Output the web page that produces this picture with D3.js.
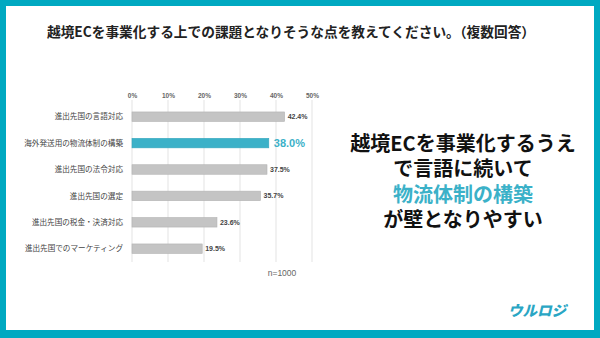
<!DOCTYPE html>
<html>
<head>
<meta charset="utf-8">
<script src="https://cdn.jsdelivr.net/npm/d3@7"></script>
<style>
  html, body { margin: 0; padding: 0; background: #fff; }
  svg { display: block; font-family: "Noto Sans CJK JP", "Noto Sans", sans-serif; }
</style>
</head>
<body>
<svg id="chart" width="600" height="338"></svg>
<script>
// Survey answers (multiple choice), n=1000
const categories = [
  "進出先国の言語対応",
  "海外発送用の物流体制の構築",
  "進出先国の法令対応",
  "進出先国の選定",
  "進出先国の税金・決済対応",
  "進出先国でのマーケティング"
];
const values = [42.4, 38.0, 37.5, 35.7, 23.6, 19.5];
const highlightIndex = 1;
const tickValues = [0, 10, 20, 30, 40, 50];

const title = "越境ECを事業化する上での課題となりそうな点を教えてください。（複数回答）";
const messageLines = ["越境ECを事業化するうえ", "で言語に続いて", "物流体制の構築", "が壁となりやすい"];
const messageHighlightLine = 2;
const sampleNote = "n=1000";
const brand = "ウルロジ";

const teal = "#00a9c1";
const accent = "#3bb1c8";
const svg = d3.select("#chart");

// frame
svg.append("rect").attr("x", 0).attr("y", 0).attr("width", 600).attr("height", 338).attr("fill", teal);
svg.append("rect").attr("x", 6).attr("y", 6).attr("width", 588).attr("height", 324).attr("fill", "#fff");

// title
svg.append("text")
  .attr("x", 291).attr("y", 37)
  .attr("text-anchor", "middle")
  .attr("font-size", 13.7).attr("font-weight", 700).attr("fill", "#222")
  .text(title);

// scales
const x = d3.scaleLinear().domain([0, 50]).range([132, 312]);
const y = d3.scaleBand().domain(categories).range([103.5, 261.9]).paddingInner(0.64).paddingOuter(0.32);

// grid
const g = svg.append("g");
g.selectAll("line.grid").data(tickValues).join("line")
  .attr("class", "grid")
  .attr("x1", d => x(d)).attr("x2", d => x(d))
  .attr("y1", 100).attr("y2", 262)
  .attr("stroke", "#dcdcdc").attr("stroke-width", 0.8);

// top axis labels
const axis = d3.axisTop(x).tickValues(tickValues).tickFormat(d => d + "%").tickSize(0).tickPadding(0);
const axisG = svg.append("g").attr("transform", "translate(0,98)").call(axis);
axisG.select(".domain").remove();
axisG.selectAll("text")
  .attr("font-size", 6.5).attr("fill", "#666").attr("font-weight", 700)
  .attr("font-family", "Liberation Sans, Arial, sans-serif");

// bars
g.selectAll("rect.bar").data(values).join("rect")
  .attr("class", "bar")
  .attr("x", x(0))
  .attr("y", (d, i) => y(categories[i]))
  .attr("width", d => x(d) - x(0))
  .attr("height", y.bandwidth())
  .attr("fill", (d, i) => i === highlightIndex ? accent : "#c4c4c4")
  .attr("stroke", (d, i) => i === highlightIndex ? "#35a6bd" : "#b3b3b3")
  .attr("stroke-width", 0.6);

// value labels
g.selectAll("text.val").data(values).join("text")
  .attr("class", "val")
  .attr("x", d => x(d))
  .attr("dx", (d, i) => i === highlightIndex ? 5 : 3)
  .attr("y", (d, i) => y(categories[i]) + y.bandwidth() / 2)
  .attr("dy", "0.36em")
  .attr("font-family", "Liberation Sans, Arial, sans-serif")
  .attr("font-size", (d, i) => i === highlightIndex ? 11 : 7)
  .attr("font-weight", 700)
  .attr("fill", (d, i) => i === highlightIndex ? accent : "#444")
  .text(d => d.toFixed(1) + "%");

// category labels
g.selectAll("text.cat").data(categories).join("text")
  .attr("class", "cat")
  .attr("x", 123)
  .attr("y", d => y(d) + y.bandwidth() / 2)
  .attr("dy", "0.36em")
  .attr("text-anchor", "end")
  .attr("font-size", 7.6).attr("fill", "#444")
  .text(d => d);

// sample size
svg.append("text")
  .attr("x", 282).attr("y", 276).attr("text-anchor", "middle")
  .attr("font-size", 8.5).attr("fill", "#666")
  .attr("font-family", "Liberation Sans, Arial, sans-serif")
  .text(sampleNote);

// key message: one text block, one tspan per line
const msg = svg.append("text")
  .attr("text-anchor", "middle")
  .attr("font-size", 20).attr("font-weight", 700);
msg.selectAll("tspan").data(messageLines).join("tspan")
  .attr("x", 463)
  .attr("y", (d, i) => 151 + i * 25.3)
  .attr("fill", (d, i) => i === messageHighlightLine ? accent : "#111")
  .text(d => d);

// brand mark
svg.append("text")
  .attr("x", 537).attr("y", 311).attr("dy", "0.36em")
  .attr("text-anchor", "middle")
  .attr("font-size", 14.5).attr("font-weight", 900)
  .attr("font-style", "italic")
  .attr("fill", "#2aa6c4")
  .text(brand);
</script>
</body>
</html>
